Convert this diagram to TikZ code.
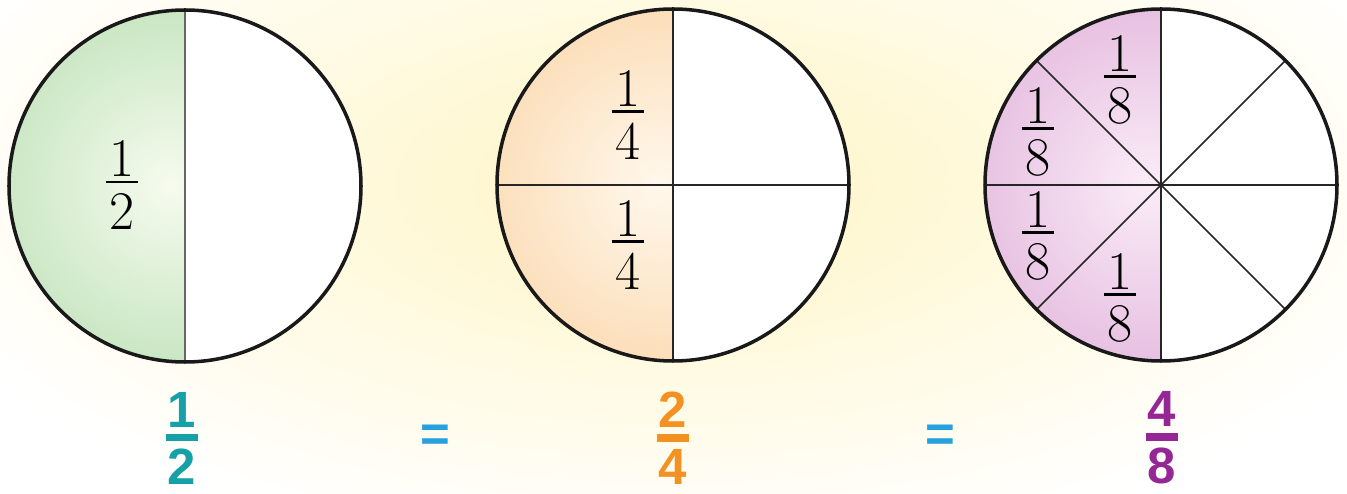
\documentclass[tikz,border=0pt]{standalone}
\usepackage{fontspec}
\newfontfamily\sumfont{Liberation Sans}
\usetikzlibrary{positioning}
\definecolor{glow}{RGB}{255,245,196}
\definecolor{halfdark}{RGB}{156,210,152}
\definecolor{halflight}{RGB}{246,251,238}
\definecolor{quardark}{RGB}{248,196,134}
\definecolor{quarlight}{RGB}{255,248,236}
\definecolor{eighdark}{RGB}{212,148,204}
\definecolor{eighlight}{RGB}{250,236,247}
\definecolor{halfink}{RGB}{22,160,168}
\definecolor{quarink}{RGB}{243,146,34}
\definecolor{eighink}{RGB}{148,38,150}
\definecolor{eqink}{RGB}{38,160,222}
% stacked fractions: serif one inside the pies, heavy sans one below
\newcommand{\piefrac}[2]{\vbox{\offinterlineskip
  \hbox to 0.6em{\hss#1\hss}\kern0.07em
  \hrule height 0.055em\kern0.18em
  \hbox to 0.6em{\hss#2\hss}}}
\newcommand{\sumfrac}[2]{\vbox{\offinterlineskip
  \hbox to 0.64em{\hss#1\hss}\kern0.13em
  \hrule height 0.15em\kern0.14em
  \hbox to 0.64em{\hss#2\hss}}}
\newcommand{\pieR}{176}
\tikzset{
  rim/.style={line width=2pt,draw=black!90},
  cut/.style={line width=0.9pt,draw=black!85},
  part/.style={inner sep=0pt,font=\fontsize{31}{36}\selectfont},
  total/.style={inner sep=0pt,font=\sumfont\bfseries\fontsize{29}{34}\selectfont},
  eqsign/.style={total,text=eqink},
}
\begin{document}
\begin{tikzpicture}[x=0.02cm,y=0.02cm]
  \useasboundingbox (0,0) rectangle (1347,494);
  \begin{scope}
    \clip (0,0) rectangle (1347,494);
    \fill[white] (0,0) rectangle (1347,494);
    \shade[inner color=glow,outer color=white] (673,309) ellipse (800 and 370);
  \end{scope}
  \coordinate (c1) at (185,308);
  \coordinate (c2) at (673,309);
  \coordinate (c3) at (1161,309);
  % one half
  \fill[white] (c1) circle (\pieR);
  \begin{scope}
    \clip (c1) ++(0,\pieR) arc (90:270:\pieR) -- cycle;
    \shade[inner color=halflight,outer color=halfdark] (c1) ++(-15,0) circle (2*\pieR);
  \end{scope}
  \draw[cut,line width=1.1pt,draw=black!60] (c1) +(90:\pieR) -- +(270:\pieR);
  \draw[rim] (c1) circle (\pieR);
  % two quarters
  \fill[white] (c2) circle (\pieR);
  \begin{scope}
    \clip (c2) ++(0,\pieR) arc (90:270:\pieR) -- cycle;
    \shade[inner color=quarlight,outer color=quardark] (c2) ++(-15,0) circle (2*\pieR);
  \end{scope}
  \foreach \a in {0,90}
    \draw[cut] (c2) +(\a:\pieR) -- +(\a+180:\pieR);
  \draw[rim] (c2) circle (\pieR);
  % four eighths
  \fill[white] (c3) circle (\pieR);
  \begin{scope}
    \clip (c3) ++(0,\pieR) arc (90:270:\pieR) -- cycle;
    \shade[inner color=eighlight,outer color=eighdark] (c3) ++(-15,0) circle (2*\pieR);
  \end{scope}
  \foreach \a in {0,45,90,135}
    \draw[cut] (c3) +(\a:\pieR) -- +(\a+180:\pieR);
  \draw[rim] (c3) circle (\pieR);
  % labels in the pies
  \node[part] (half) at (122,309) {\piefrac{1}{2}};
  \node[part] (quarA) at (628,379) {\piefrac{1}{4}};
  \node[part] (quarB) at (628,249) {\piefrac{1}{4}};
  \node[part] (eighA) at (1120,414) {\piefrac{1}{8}};
  \node[part] (eighB) at (1038,362) {\piefrac{1}{8}};
  \node[part] (eighC) at (1038,258) {\piefrac{1}{8}};
  \node[part] (eighD) at (1120,196) {\piefrac{1}{8}};
  % the equation below
  \node[total,text=halfink] (sumhalf) at (182,56) {\sumfrac{1}{2}};
  \node[eqsign] (eqA) at (435,56) {=};
  \node[total,text=quarink] (sumquar) at (673,56) {\sumfrac{2}{4}};
  \node[eqsign] (eqB) at (940,56) {=};
  \node[total,text=eighink] (sumeigh) at (1162,56) {\sumfrac{4}{8}};
\end{tikzpicture}
\end{document}
